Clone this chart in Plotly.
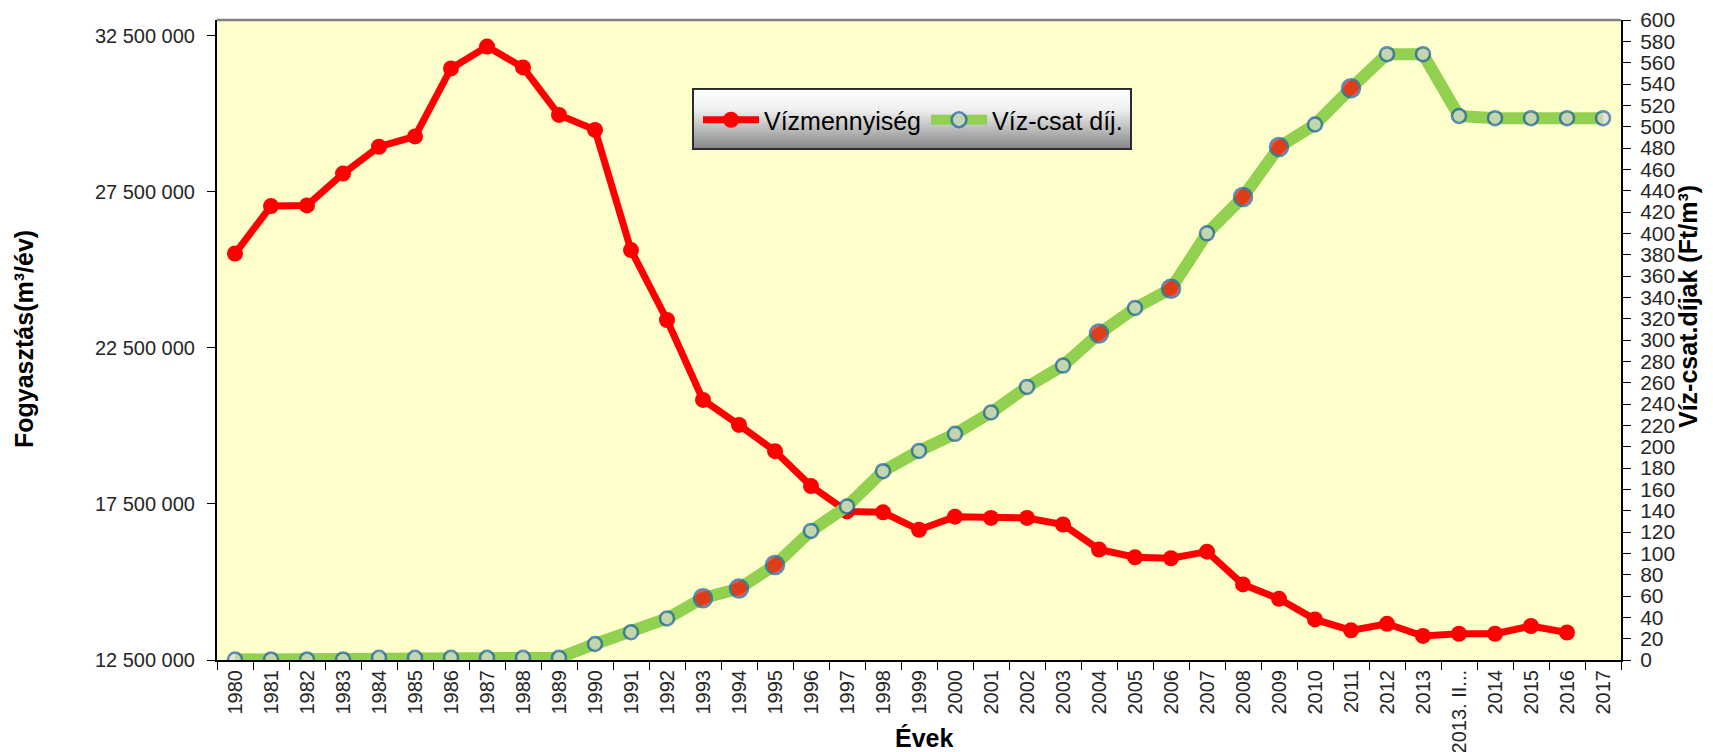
import base64
import plotly.graph_objects as go

# ---------------- data ----------------
categories = ["1980", "1981", "1982", "1983", "1984", "1985", "1986", "1987", "1988", "1989",
              "1990", "1991", "1992", "1993", "1994", "1995", "1996", "1997", "1998", "1999",
              "2000", "2001", "2002", "2003", "2004", "2005", "2006", "2007", "2008", "2009",
              "2010", "2011", "2012", "2013", "2013. II...", "2014", "2015", "2016", "2017"]

# Vízmennyiség (m3/év)
water_volume = [25520000, 27040000, 27060000, 28080000, 28940000, 29270000, 31450000, 32150000,
                31480000, 29960000, 29480000, 25630000, 23390000, 20830000, 20030000, 19190000,
                18070000, 17260000, 17230000, 16670000, 17090000, 17050000, 17050000, 16840000,
                16040000, 15790000, 15760000, 15970000, 14920000, 14460000, 13800000, 13450000,
                13660000, 13270000, 13340000, 13340000, 13590000, 13380000, None]

# Víz-csat díj (Ft/m3)
water_fee = [0.5, 0.5, 0.5, 0.5, 2, 2, 2, 2, 2, 2,
             15, 26, 39, 58, 67, 89, 121, 144, 177, 196,
             212, 232, 256, 276, 306, 330, 348, 400, 434, 481,
             502, 536, 568, 568, 510, 508, 508, 508, 508]

# points of the fee series that are highlighted in red in the original
highlighted = ["1993", "1994", "1995", "2004", "2006", "2008", "2009", "2011"]

left_ticks = [12500000, 17500000, 22500000, 27500000, 32500000]
left_range = [12500000, 33000000]
right_range = [0, 600]

# ---------------- styles ----------------
BASE = "Liberation Sans, Arial, sans-serif"
TICK_FONT = dict(family=BASE, size=20, color="#262626")
RTICK_FONT = dict(family=BASE, size=21, color="#262626")
TITLE_FONT = dict(family=BASE, size=25, color="#000000", weight="bold")

fee_fill = ["#FF0000" if c in highlighted else "#D9D9D9" for c in categories]
fee_size = [18 if c in highlighted else 14 for c in categories]

fig = go.Figure()

fig.add_trace(go.Scatter(
    x=categories, y=water_volume, name="Vízmennyiség",
    mode="lines+markers",
    line=dict(color="#FF0000", width=7),
    marker=dict(color="#FF0000", size=16, symbol="circle"),
    yaxis="y", connectgaps=False,
))

fig.add_trace(go.Scatter(
    x=categories, y=water_fee, name="Víz-csat díj.",
    mode="lines+markers",
    line=dict(color="#92D050", width=12),
    marker=dict(color=fee_fill, size=fee_size, symbol="circle",
                line=dict(color="#1A5DA6", width=2.5)),
    yaxis="y2",
))

# gradient legend background
svg = ('<svg xmlns="http://www.w3.org/2000/svg" width="440" height="64" viewBox="0 0 440 64" '
       'preserveAspectRatio="none"><defs><linearGradient id="g" x1="0" y1="0" x2="0" y2="1">'
       '<stop offset="0" stop-color="#ffffff"/><stop offset="0.35" stop-color="#efefef"/>'
       '<stop offset="1" stop-color="#858585"/></linearGradient></defs>'
       '<rect x="1" y="1" width="438" height="62" fill="url(#g)" stroke="#2b2b2b" stroke-width="2"/></svg>')
svg_uri = "data:image/svg+xml;base64," + base64.b64encode(svg.encode()).decode()

W, H = 1713, 752
ML, MR, MT, MB = 217, 92, 20, 92
PW, PH = W - ML - MR, H - MT - MB


def px_x(x):
    return (x - ML) / PW


def px_y(y):
    return (H - MB - y) / PH


axis_common = dict(showgrid=False, zeroline=False, automargin=False,
                   showline=True, linecolor="#000000", linewidth=2,
                   ticks="outside", ticklen=8, tickwidth=1.3, tickcolor="#000000")

fig.update_layout(
    width=W, height=H,
    margin=dict(l=ML, r=MR, t=MT, b=MB, autoexpand=False),
    paper_bgcolor="#FFFFFF",
    plot_bgcolor="#FFFFCC",
    separators=", ",
    showlegend=True,
    legend=dict(
        orientation="h", x=px_x(698), y=px_y(120), xanchor="left", yanchor="middle",
        bgcolor="rgba(0,0,0,0)", borderwidth=0,
        font=dict(family=BASE, size=25, color="#000000"),
        itemwidth=56, tracegroupgap=0, traceorder="normal",
    ),
    xaxis=dict(
        type="category", categoryorder="array", categoryarray=categories,
        tickangle=-90, tickfont=TICK_FONT, tickson="boundaries",
        range=[-0.5, len(categories) - 0.5], **axis_common,
    ),
    yaxis=dict(
        range=left_range, tickvals=left_ticks, tickformat=",d",
        tickfont=TICK_FONT, ticklabelstandoff=8, **axis_common,
    ),
    yaxis2=dict(
        range=right_range, dtick=20, overlaying="y", side="right",
        tickfont=RTICK_FONT, ticklabelstandoff=5, **axis_common,
    ),
    images=[dict(
        source=svg_uri, xref="paper", yref="paper",
        x=px_x(692), y=px_y(88), sizex=(1132 - 692) / PW, sizey=(150 - 88) / PH,
        xanchor="left", yanchor="top", sizing="stretch", layer="above",
    )],
    shapes=[dict(
        type="line", xref="paper", yref="paper", x0=0, x1=1, y0=1, y1=1,
        line=dict(color="#808080", width=2.5),
    )],
    annotations=[
        dict(text="Fogyasztás(m³/év)", xref="paper", yref="paper",
             x=px_x(24), y=px_y(339), textangle=-90, showarrow=False,
             font=TITLE_FONT, xanchor="center", yanchor="middle"),
        dict(text="Víz-csat.díjak (Ft/m³)", xref="paper", yref="paper",
             x=px_x(1688), y=px_y(306), textangle=-90, showarrow=False,
             font=TITLE_FONT, xanchor="center", yanchor="middle"),
        dict(text="Évek", xref="paper", yref="paper",
             x=px_x(924), y=px_y(738), showarrow=False,
             font=TITLE_FONT, xanchor="center", yanchor="middle"),
    ],
)

fig.write_html(
    "out.html",
    config={"displayModeBar": False},
    post_script="document.body.style.margin='0px';document.body.style.overflow='hidden';",
)
